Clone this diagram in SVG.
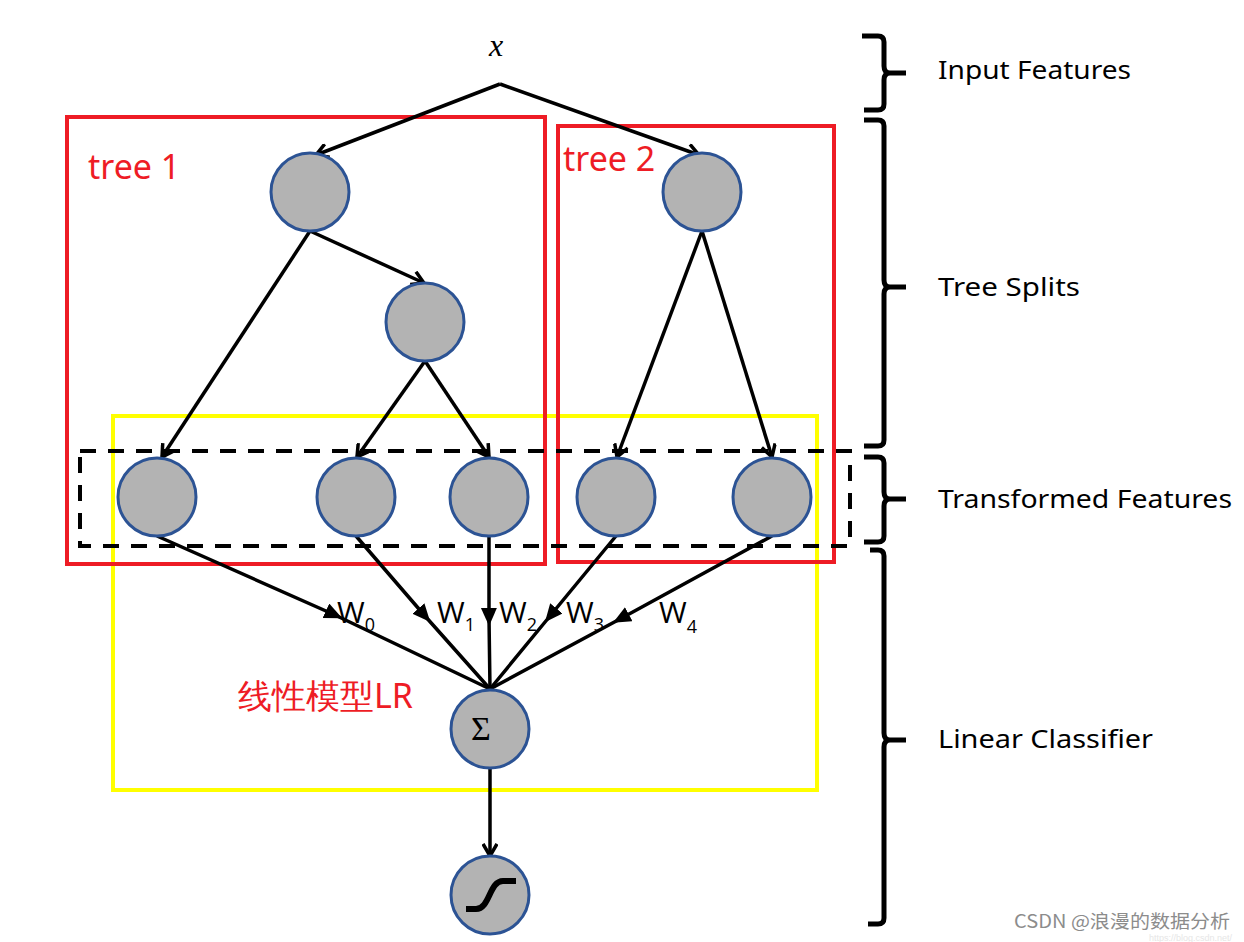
<svg xmlns="http://www.w3.org/2000/svg" width="1244" height="942" viewBox="0 0 1244 942">
<style>
.node{fill:#b3b3b3;stroke:#2c5394;stroke-width:3}
.edge{stroke:#000;stroke-width:3.5;fill:none}
.lbl{font-family:"Noto Sans","Open Sans",sans-serif;font-size:26px;fill:#000}
.w{font-family:"Open Sans","DejaVu Sans",sans-serif;font-size:30px;fill:#000}
.sub{font-size:18px}
.red{font-family:"Noto Sans","Liberation Sans",sans-serif;font-size:34px;fill:#ee1c25}
.brace{stroke:#000;stroke-width:5;fill:none;stroke-linejoin:round}
</style>
<defs>
<marker id="open" markerWidth="16" markerHeight="16" refX="14" refY="8" orient="auto" markerUnits="userSpaceOnUse">
<path d="M2,1 L14,8 L2,15" fill="none" stroke="#000" stroke-width="3.5"/>
</marker>
<marker id="tri" markerWidth="20" markerHeight="20" refX="10" refY="8" orient="auto" markerUnits="userSpaceOnUse">
<path d="M0,0 L18,8 L0,16 Z" fill="#000"/>
</marker>
</defs>
<rect width="1244" height="942" fill="#fff"/>

<g id="boxes">
<rect x="113" y="416" width="704" height="374" fill="none" stroke="#ffff00" stroke-width="4"/>
<rect x="67" y="117" width="478" height="447" fill="none" stroke="#ee1c25" stroke-width="4"/>
<rect x="558" y="126" width="276" height="436" fill="none" stroke="#ee1c25" stroke-width="4"/>
<rect x="80" y="451" width="770" height="95" fill="none" stroke="#000" stroke-width="4" stroke-dasharray="16,12"/>
</g>

<g id="connectors">
<path class="edge" d="M500,84 L316,155" marker-end="url(#open)"/>
<path class="edge" d="M500,84 L699,155" marker-end="url(#open)"/>
<path class="edge" d="M310,231 L162,457" marker-end="url(#open)"/>
<path class="edge" d="M310,231 L424,283" marker-end="url(#open)"/>
<path class="edge" d="M425,361 L357,457" marker-end="url(#open)"/>
<path class="edge" d="M425,361 L489,457" marker-end="url(#open)"/>
<path class="edge" d="M702,231 L617,457" marker-end="url(#open)"/>
<path class="edge" d="M702,231 L772,457" marker-end="url(#open)"/>
<path class="edge" d="M157,536 L335,615 L490,689" marker-mid="url(#tri)"/>
<path class="edge" d="M356,536 L425,616 L490,689" marker-mid="url(#tri)"/>
<path class="edge" d="M489,536 L489,618 L490,689" marker-mid="url(#tri)"/>
<path class="edge" d="M616,536 L550,616 L490,689" marker-mid="url(#tri)"/>
<path class="edge" d="M772,536 L620,619 L490,689" marker-mid="url(#tri)"/>
<path class="edge" d="M490,768 L490,856" marker-end="url(#open)"/>
</g>

<g id="node-x"><text x="496" y="56" font-family="Liberation Serif,serif" font-style="italic" font-size="32" text-anchor="middle">x</text></g>
<g id="node-t1-root"><circle class="node" cx="310" cy="192" r="39"/></g>
<g id="node-t1-mid"><circle class="node" cx="425" cy="322" r="39"/></g>
<g id="node-t2-root"><circle class="node" cx="702" cy="192" r="39"/></g>
<g id="node-leaf0"><circle class="node" cx="157" cy="497" r="39"/></g>
<g id="node-leaf1"><circle class="node" cx="356" cy="497" r="39"/></g>
<g id="node-leaf2"><circle class="node" cx="489" cy="497" r="39"/></g>
<g id="node-leaf3"><circle class="node" cx="616" cy="497" r="39"/></g>
<g id="node-leaf4"><circle class="node" cx="772" cy="497" r="39"/></g>
<g id="node-sum"><circle class="node" cx="490" cy="729" r="39"/><text x="481" y="740" font-family="Liberation Serif,serif" font-size="34" text-anchor="middle">Σ</text></g>
<g id="node-sigmoid"><circle class="node" cx="490" cy="895" r="39"/><path d="M466,909 L476,909 C490,909 489,881 503,881 L516,881" fill="none" stroke="#000" stroke-width="6"/></g>

<g id="weights">
<text class="w" x="337" y="623">W<tspan class="sub" dy="8">0</tspan></text>
<text class="w" x="437" y="623">W<tspan class="sub" dy="8">1</tspan></text>
<text class="w" x="499" y="623">W<tspan class="sub" dy="8">2</tspan></text>
<text class="w" x="566" y="623">W<tspan class="sub" dy="8">3</tspan></text>
<text class="w" x="659" y="623">W<tspan class="sub" dy="10">4</tspan></text>
</g>

<g id="annotations">
<text class="red" x="88" y="179">tree 1</text>
<text class="red" x="563" y="171">tree 2</text>
<text class="red" x="238" y="708" font-family="'Noto Sans CJK SC','Noto Sans',sans-serif" font-size="32">线性模型LR</text>
</g>

<g id="braces">
<path class="brace" d="M862,36 L878,36 Q884,36 884,42 L884,66 Q884,73 890,73 L906,73 M890,73 Q884,73 884,80 L884,104 Q884,110 878,110 L864,110"/>
<path class="brace" d="M864,120 L878,120 Q884,120 884,126 L884,280 Q884,287 890,287 L906,287 M890,287 Q884,287 884,294 L884,440 Q884,446 878,446 L864,446"/>
<path class="brace" d="M864,457 L878,457 Q884,457 884,463 L884,492 Q884,499 890,499 L906,499 M890,499 Q884,499 884,506 L884,536 Q884,542 878,542 L864,542"/>
<path class="brace" d="M870,550 L878,550 Q884,550 884,556 L884,733 Q884,740 890,740 L906,740 M890,740 Q884,740 884,747 L884,918 Q884,924 878,924 L868,924"/>
</g>

<g id="labels">
<text class="lbl" x="938" y="79" textLength="193" lengthAdjust="spacingAndGlyphs">Input Features</text>
<text class="lbl" x="938" y="296" textLength="142" lengthAdjust="spacingAndGlyphs">Tree Splits</text>
<text class="lbl" x="938" y="508" textLength="294" lengthAdjust="spacingAndGlyphs">Transformed Features</text>
<text class="lbl" x="938" y="748" textLength="215" lengthAdjust="spacingAndGlyphs">Linear Classifier</text>
</g>

<g id="watermark">
<text x="1232" y="941" font-family="'Liberation Sans',sans-serif" font-size="9" fill="#e6e6e6" text-anchor="end">https://blog.csdn.net/</text>
<text x="1014" y="928" font-family="'Noto Sans CJK SC','Noto Sans',sans-serif" font-size="18" fill="#8c8c8c" textLength="216" lengthAdjust="spacingAndGlyphs">CSDN @浪漫的数据分析</text>
</g>
</svg>
